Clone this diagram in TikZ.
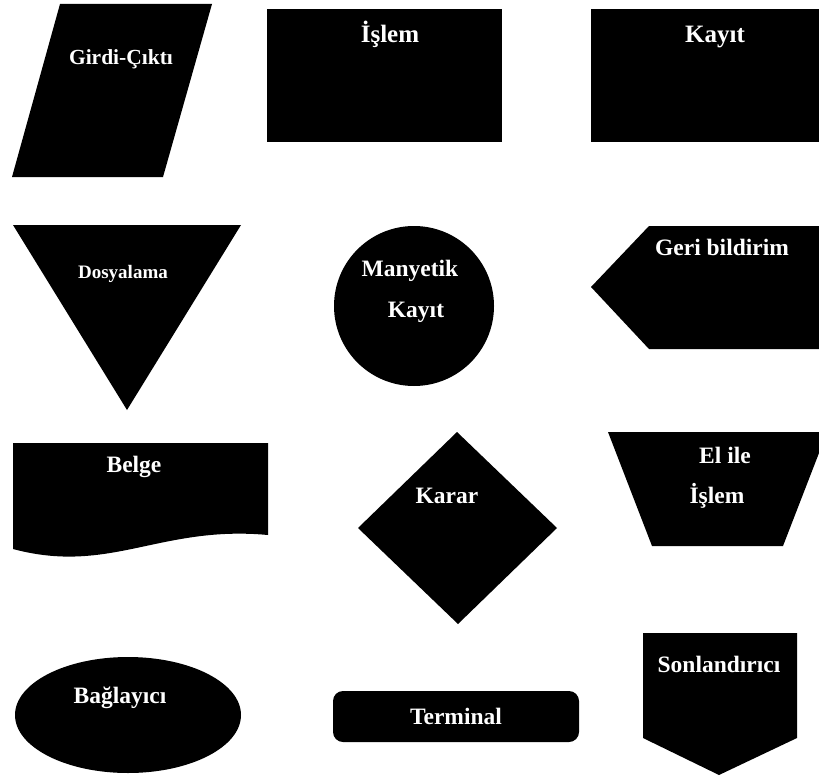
\documentclass[tikz,border=0pt]{standalone}
\usepackage{fontspec}
\setmainfont{Liberation Serif}
\usepackage{tikz}
\usetikzlibrary{calc}

\begin{document}
\begin{tikzpicture}[x=1pt, y=-1pt,
  shp/.style={fill=black},
  lbl/.style={text=white, anchor=base, inner sep=0pt, font=\bfseries\fontsize{23.5}{28}\selectfont}]
  \useasboundingbox (0,0) rectangle (819,776);
  % ------- row 1 -------
  \fill[shp] (60,4) -- (212,4) -- (163,177) -- (12,177) -- cycle;
  \node[lbl, font=\bfseries\fontsize{21.5}{26}\selectfont] (girdi) at (121,65) {Girdi-Çıktı};
  \fill[shp] (267,9) rectangle (502,142);
  \node[lbl, font=\bfseries\fontsize{25}{30}\selectfont] (islem) at (390,43) {İşlem};
  \fill[shp] (591,9) rectangle (819,142);
  \node[lbl, font=\bfseries\fontsize{25}{30}\selectfont] (kayit) at (715,43) {Kayıt};
  % ------- row 2 -------
  \fill[shp] (13,225) -- (241,225) -- (127,410) -- cycle;
  \node[lbl, font=\bfseries\fontsize{19}{23}\selectfont] (dosya) at (123,278) {Dosyalama};
  \fill[shp] (414,306) circle (80);
  \node[lbl] (manyetik) at (410,276) {Manyetik};
  \node[lbl] (mkayit) at (416,317) {Kayıt};
  \fill[shp] (591,287) -- (649,226) -- (819,226) -- (819,349) -- (649,349) -- cycle;
  \node[lbl] (geri) at (722,255) {Geri bildirim};
  % ------- row 3 -------
  \fill[shp] (13,443) -- (268,443) -- (268,535)
    .. controls (160,525) and (110,575) .. (13,549) -- cycle;
  \node[lbl] (belge) at (134,472) {Belge};
  \fill[shp] (457,432) -- (557,528) -- (458,624) -- (358,528) -- cycle;
  \node[lbl] (karar) at (447,503) {Karar};
  \fill[shp] (608,432) -- (819,432) -- (819,453) -- (783,546) -- (652,546) -- cycle;
  \node[lbl] (elile) at (725,463) {El ile};
  \node[lbl] (elislem) at (717,503) {İşlem};
  % ------- row 4 -------
  \fill[shp] (128,715) ellipse [x radius=113, y radius=58];
  \node[lbl] (baglayici) at (120,703) {Bağlayıcı};
  \fill[shp, rounded corners=10pt] (333,691) rectangle (579,742);
  \node[lbl] (terminal) at (456,724) {Terminal};
  \fill[shp] (643,633) -- (797,633) -- (797,738) -- (719,775) -- (643,738) -- cycle;
  \node[lbl] (sonland) at (719,672) {Sonlandırıcı};
\end{tikzpicture}
\end{document}
